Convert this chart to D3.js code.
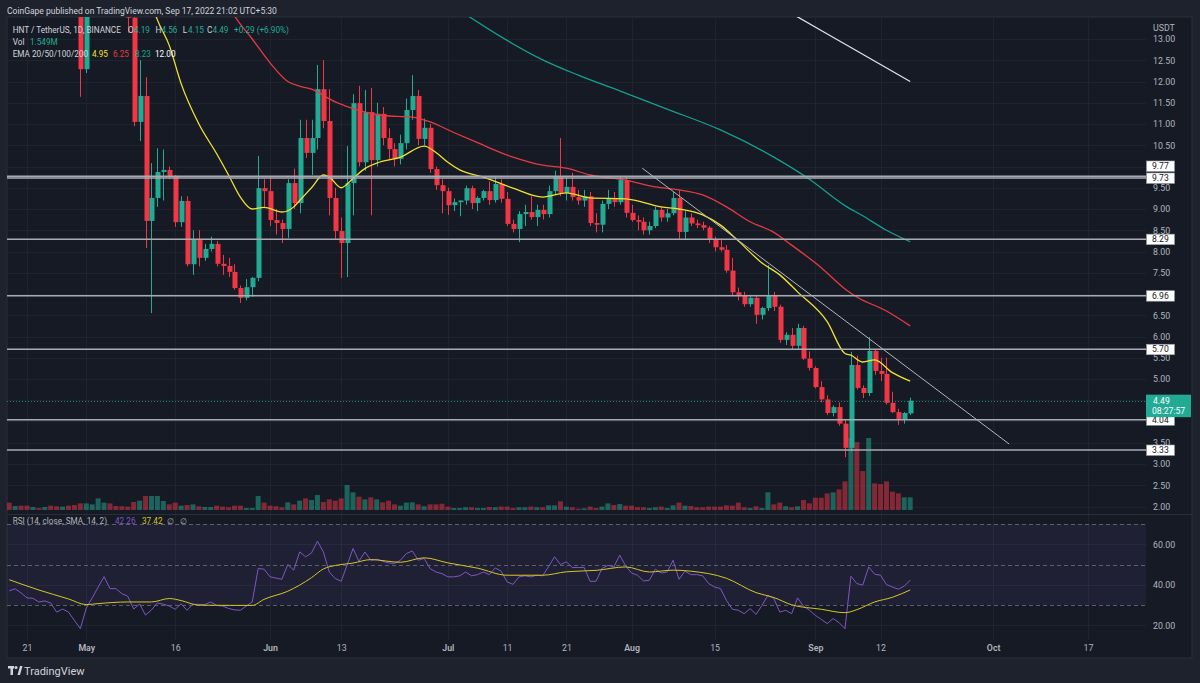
<!DOCTYPE html>
<html>
<head>
<meta charset="utf-8">
<script src="https://cdn.jsdelivr.net/npm/d3@7"></script>
<style>
  body { margin: 0; background: #1e222d; }
  svg text { font-family: Roboto, "Open Sans", sans-serif; }
</style>
</head>
<body>
<svg id="chart" width="1200" height="683"></svg>
<script>
// daily candles, first one is 2022-04-18
const startDate = Date.UTC(2022, 3, 18);
const DAY = 864e5;

// [open, high, low, close]
const ohlc = [
  // Apr 18 - Apr 27
  [18.6,19.2,17.8,18.0],[18.0,18.9,17.6,18.5],[18.5,18.7,17.3,17.5],[17.5,17.8,16.4,16.6],[16.6,17.3,16.2,17.0],
  [17.0,17.1,16.0,16.2],[16.2,16.9,15.9,16.6],[16.6,16.7,15.5,15.7],[15.7,15.9,14.8,15.0],[15.0,15.6,14.7,15.3],
  // Apr 28 - May 7
  [15.3,15.4,14.3,14.5],[14.5,14.7,13.6,13.9],[13.9,14.1,11.64,12.29],[12.29,13.9,12.2,13.7],[13.7,14.6,13.6,14.3],
  [14.3,15.8,14.2,15.4],[15.4,16.2,15.0,15.9],[15.9,16.0,14.8,15.1],[15.1,15.3,14.4,14.6],[14.6,14.8,13.9,14.1],
  // May 8 - May 17
  [14.1,14.4,13.15,13.5],[13.5,13.8,10.95,11.05],[11.05,12.5,10.6,11.66],[11.66,12.1,8.08,8.72],[8.72,10.08,6.55,9.26],
  [9.26,10.43,9.05,9.87],[9.87,10.4,9.2,9.92],[9.92,10.0,9.7,9.78],[9.78,9.8,8.58,8.69],[8.69,9.3,8.58,9.19],
  // May 18 - May 27
  [9.19,9.3,7.65,7.7],[7.7,8.5,7.45,8.29],[8.29,8.5,7.65,7.85],[7.85,8.18,7.78,8.06],[8.06,8.35,8.0,8.18],
  [8.18,8.25,7.65,7.71],[7.71,7.92,7.45,7.66],[7.66,7.85,7.4,7.52],[7.52,7.7,7.1,7.14],[7.14,7.2,6.79,6.91],
  // May 28 - Jun 6
  [6.91,7.35,6.85,7.16],[7.16,7.4,6.93,7.38],[7.38,10.25,7.3,9.49],[9.49,9.7,9.05,9.42],[9.42,9.75,8.6,8.74],
  [8.74,9.0,8.4,8.67],[8.67,8.75,8.2,8.53],[8.53,9.7,8.32,9.61],[9.61,9.95,9.0,9.14],[9.14,11.1,8.9,10.67],
  // Jun 7 - Jun 16
  [10.67,11.1,10.2,10.32],[10.32,11.1,9.8,10.67],[10.67,12.39,10.4,11.82],[11.82,12.5,10.9,11.07],[11.07,11.82,8.85,9.26],
  [9.26,9.5,8.3,8.48],[8.48,8.8,7.38,8.2],[8.2,10.48,7.4,9.61],[9.61,11.7,8.85,11.49],[11.49,11.9,10.0,10.1],
  // Jun 17 - Jun 26
  [10.1,11.8,9.9,11.28],[11.28,11.85,8.85,10.15],[10.15,11.5,10.0,11.24],[11.24,11.4,10.5,10.67],[10.67,10.9,10.15,10.41],
  [10.41,10.55,10.0,10.18],[10.18,10.75,10.05,10.55],[10.55,11.6,10.4,11.33],[11.33,12.15,11.1,11.66],[11.66,11.8,10.5,10.65],
  // Jun 27 - Jul 6
  [10.65,11.13,10.5,10.91],[10.91,11.0,9.85,9.94],[9.94,10.0,9.45,9.56],[9.56,9.7,8.9,9.42],[9.42,9.5,8.86,9.09],
  [9.09,9.25,8.95,9.16],[9.16,9.2,8.83,9.2],[9.2,9.55,9.1,9.49],[9.49,9.55,9.0,9.14],[9.14,9.3,8.95,9.26],
  // Jul 7 - Jul 16
  [9.26,9.45,9.2,9.42],[9.42,9.65,9.1,9.21],[9.21,9.77,9.15,9.59],[9.59,9.7,9.15,9.24],[9.24,9.4,8.6,8.65],
  [8.65,8.75,8.45,8.53],[8.53,8.95,8.22,8.88],[8.88,9.1,8.6,8.93],[8.93,9.3,8.75,8.81],[8.81,9.1,8.6,8.98],
  // Jul 17 - Jul 26
  [8.98,9.1,8.75,8.88],[8.88,9.55,8.8,9.42],[9.42,9.9,9.35,9.75],[9.75,10.67,9.3,9.38],[9.38,9.75,9.2,9.52],
  [9.52,9.85,9.2,9.28],[9.28,9.45,9.1,9.2],[9.2,9.45,9.05,9.3],[9.3,9.4,8.6,8.67],[8.67,8.9,8.45,8.63],
  // Jul 27 - Aug 5
  [8.63,9.2,8.45,9.12],[9.12,9.45,9.0,9.26],[9.26,9.4,9.05,9.16],[9.16,9.75,9.1,9.68],[9.68,9.75,8.8,8.91],
  [8.91,9.1,8.7,8.74],[8.74,8.85,8.5,8.7],[8.7,8.8,8.4,8.5],[8.5,8.7,8.4,8.6],[8.6,9.05,8.55,8.98],
  // Aug 6 - Aug 15
  [8.98,9.05,8.7,8.8],[8.8,9.0,8.7,8.9],[8.9,9.4,8.85,9.26],[9.26,9.45,8.3,8.46],[8.46,8.95,8.3,8.8],
  [8.8,8.9,8.6,8.66],[8.66,8.75,8.55,8.62],[8.62,8.7,8.5,8.56],[8.56,8.6,8.2,8.27],[8.27,8.35,8.0,8.1],
  // Aug 16 - Aug 25
  [8.1,8.3,8.0,8.04],[8.04,8.15,7.5,7.55],[7.55,7.85,6.95,7.04],[7.04,7.15,6.85,6.95],[6.95,7.05,6.7,6.76],
  [6.76,6.95,6.7,6.91],[6.91,6.95,6.3,6.51],[6.51,6.7,6.4,6.67],[6.67,7.68,6.6,6.95],[6.95,7.05,6.6,6.7],
  // Aug 26 - Sep 4
  [6.7,6.75,5.85,5.92],[5.92,6.1,5.8,6.04],[6.04,6.2,5.7,5.78],[5.78,6.3,5.7,6.2],[6.2,6.25,5.45,5.48],
  [5.48,5.65,5.2,5.26],[5.26,5.3,4.78,4.81],[4.81,4.95,4.45,4.52],[4.52,4.62,4.15,4.2],[4.2,4.38,4.12,4.34],
  // Sep 5 - Sep 14
  [4.34,4.45,3.9,3.95],[3.95,4.05,3.16,3.38],[3.38,5.64,3.3,5.33],[5.33,5.55,4.75,4.79],[4.79,4.85,4.55,4.67],
  [4.67,5.99,4.6,5.66],[5.66,5.7,5.1,5.19],[5.19,5.5,4.95,5.12],[5.12,5.5,4.4,4.44],[4.44,4.7,4.2,4.22],
  // Sep 15 - Sep 17
  [4.22,4.3,3.92,4.06],[4.06,4.22,3.95,4.2],[4.19,4.56,4.15,4.49]
];

// volume in millions, same days
const volumes = [
  0.9,0.49,0.53,0.53,0.37,0.24,0.37,0.53,0.45,0.41,
  0.53,0.61,0.81,0.81,0.69,1.42,0.9,0.81,0.49,0.45,
  0.41,0.98,1.14,1.71,1.71,1.71,1.1,0.69,0.9,0.53,
  0.61,0.69,0.45,0.37,0.37,0.53,0.41,0.33,0.53,0.53,
  0.24,0.24,1.71,0.9,0.53,0.45,0.33,0.94,0.69,1.14,
  1.42,1.22,1.83,0.98,1.3,1.14,1.42,3.05,2.16,1.63,
  1.3,1.55,1.3,0.94,1.14,0.69,0.53,0.9,0.94,0.69,
  0.45,0.69,0.69,0.77,0.41,0.24,0.24,0.33,0.33,0.24,
  0.24,0.37,0.33,0.41,0.41,0.24,0.33,0.33,0.41,0.33,
  0.33,0.57,0.57,1.06,0.41,0.33,0.16,0.2,0.41,0.24,
  0.41,0.81,0.61,0.73,0.53,0.53,0.33,0.33,0.24,0.33,
  0.41,0.24,0.57,0.9,0.53,0.49,0.33,0.33,0.41,0.41,
  0.41,0.57,0.53,0.9,0.33,0.24,0.45,0.24,2.16,0.69,
  0.9,0.45,0.33,0.45,1.22,0.81,1.5,1.5,2.03,2.16,
  2.52,3.5,8.8,8.3,4.76,8.8,3.25,3.17,3.5,2.24,
  2.03,1.55,1.549
];

// RSI(14), same days
const rsiValues = [
  37,38,36,33.5,33.3,31.5,32,31,26.5,28,
  26.5,22.4,18.3,28.5,33.5,38.8,44,38.1,38.1,35.6,
  34.3,28,30.5,25,27.6,31,30.4,29.5,27.9,30.6,
  27.4,30.4,30.3,30.2,31.5,29.8,29.5,28.3,27.6,27.4,
  29.5,31.5,48,47.7,43.9,43.3,42.7,50,47.2,56.2,
  53.8,55.7,61.5,56.2,46.3,43.1,41.7,49.6,57.9,51.6,
  56.2,52.1,52.6,51.6,50.8,50.5,52.1,55.4,56.7,52.1,
  53,48,46.3,45.5,43.9,43.9,44.4,46.3,44.4,45,
  46.3,45,48.3,46.7,41.4,40.2,43.9,44.4,43.9,44.7,
  44.4,49,53.8,50,51.3,48.5,48.5,48.5,41.7,41.7,
  48,49.6,48.8,54.6,49.3,45.8,44.7,41.9,42.2,47.7,
  45.8,46.3,52.1,42.7,46.7,45,45,44.4,40.6,38.9,
  38.1,32.3,27.9,27.4,25.7,28.2,25.4,29.8,34.8,33.2,
  26.5,27.4,25.7,33.5,29.4,27.4,24.9,22.9,20.8,23.3,
  21.3,18.3,44.2,40.6,39.8,48.8,45.2,44.7,40.1,38.9,
  37.8,39.3,42.26
];

// [day index, value]
const ema20 = [[24,13.85],[25,13.45],[27,12.85],[29,11.95],[32,11.0],[35,10.3],[37,9.8],[39,9.28],[41,9.0],[43,9.04],
  [46,8.93],[48,9.05],[49,9.2],[51,9.5],[53,9.8],[54,9.75],[56,9.5],[58,9.72],[60,9.95],[62,10.08],[66,10.22],
  [70,10.48],[72,10.33],[74,10.1],[76,9.92],[80,9.75],[85,9.49],[90,9.28],[94,9.38],[98,9.26],[104,9.24],[110,9.05],
  [113,9.0],[117,8.86],[120,8.62],[123,8.25],[127,7.73],[130,7.45],[133,7.05],[138,6.35],[141,5.6],[142,5.56],
  [144,5.4],[146,5.45],[149,5.15],[152,4.95]];
const ema50 = [[37,13.8],[38,13.55],[41,13.0],[44,12.44],[47,12.0],[49,11.89],[51,11.82],[55,11.52],[59,11.32],
  [63,11.2],[68,11.16],[71,11.05],[75,10.8],[79,10.56],[85,10.22],[90,10.03],[94,9.96],[98,9.8],[104,9.68],[109,9.52],
  [113,9.45],[117,9.33],[121,9.05],[125,8.7],[129,8.45],[132,8.15],[137,7.62],[141,7.12],[143,6.93],[148,6.6],[152,6.25]];
const ema100 = [[77,13.58],[83,13.05],[90,12.51],[96,12.15],[103,11.78],[111,11.35],[120,10.86],[129,10.22],
  [135,9.7],[141,9.08],[144,8.84],[148,8.5],[152,8.23]];
const ema200 = [[132,13.6],[142,12.8],[152,12.0]];
const rsiSma = [[0,42.5],[2,40.4],[5,37.4],[10,33],[13,30.2],[15,30.7],[20,31.5],[24,31.5],[27,33.2],[29,32.2],
  [32,29.9],[38,29.8],[41,29.8],[43,32.8],[47,36.8],[51,43.5],[53,47.8],[55,49.5],[58,50.7],[61,52.4],[66,51.1],
  [70,53.3],[74,50.8],[79,48.2],[84,44.7],[90,44.7],[94,46.4],[99,47.1],[104,48.8],[108,46.3],[112,47.2],[115,46.7],
  [121,43.2],[126,36.1],[129,33.7],[132,30.1],[137,27.9],[141,26.2],[143,27.7],[146,31.5],[149,33.8],[152,37.42]];

const levels = [9.77, 9.73, 8.29, 6.96, 5.70, 4.04, 3.33];
const trendLine = [[106.8, 9.96], [168.7, 3.47]];
const lastPrice = 4.49;
const countdown = '08:27:57';

const priceTicks = d3.range(2, 13.01, 0.5);
const rsiTicks = [20, 40, 60];
const dateTicks = [['2022-04-21','21'],['2022-05-01','May'],['2022-05-16','16'],['2022-06-01','Jun'],
  ['2022-06-13','13'],['2022-07-01','Jul'],['2022-07-11','11'],['2022-07-21','21'],['2022-08-01','Aug'],
  ['2022-08-15','15'],['2022-09-01','Sep'],['2022-09-12','12'],['2022-10-01','Oct'],['2022-10-17','17']];

const UP = '#22ab94', DOWN = '#f23645';
const dateOf = i => new Date(startDate + i * DAY);

var svg = d3.select('#chart');

var x = d3.scaleUtc()
  .domain([new Date(Date.UTC(2022, 3, 21)), new Date(Date.UTC(2022, 9, 17))])
  .range([27, 1088]);
var y = d3.scaleLinear().domain([2, 13]).range([506.5, 39]);
var yVol = d3.scaleLinear().domain([0, 8.8]).range([510, 438]);
var yRsi = d3.scaleLinear().domain([30, 70]).range([605, 524]);

// frame + pane background
svg.append('rect').attr('width', 1200).attr('height', 683).attr('fill', '#1e222d');
svg.append('rect').attr('x', 7).attr('y', 17).attr('width', 1185).attr('height', 641)
  .attr('fill', '#161a25').attr('stroke', '#2a2e39');

svg.append('text').attr('x', 7).attr('y', 14).attr('fill', '#d1d4dc').attr('font-size', 8.5)
  .text('CoinGape published on TradingView.com, Sep 17, 2022 21:02 UTC+5:30');

var defs = svg.append('defs');
defs.append('clipPath').attr('id', 'clipPrice').append('rect')
  .attr('x', 7).attr('y', 17).attr('width', 1139).attr('height', 496);
defs.append('clipPath').attr('id', 'clipRsi').append('rect')
  .attr('x', 7).attr('y', 515).attr('width', 1139).attr('height', 125);

// grid
var grid = svg.append('g').attr('stroke', '#1f2330').attr('stroke-width', 1);
grid.selectAll('.hg').data(priceTicks).enter().append('line')
  .attr('x1', 7).attr('x2', 1146)
  .attr('y1', d => Math.round(y(d)) + 0.5).attr('y2', d => Math.round(y(d)) + 0.5);
grid.selectAll('.vg').data(dateTicks).enter().append('line')
  .attr('x1', d => Math.round(x(new Date(d[0]))) + 0.5).attr('x2', d => Math.round(x(new Date(d[0]))) + 0.5)
  .attr('y1', 17).attr('y2', 640);
grid.selectAll('.rg').data(rsiTicks).enter().append('line')
  .attr('x1', 7).attr('x2', 1146)
  .attr('y1', d => Math.round(yRsi(d)) + 0.5).attr('y2', d => Math.round(yRsi(d)) + 0.5);

// pane separator
svg.append('line').attr('x1', 7).attr('x2', 1192).attr('y1', 514.5).attr('y2', 514.5).attr('stroke', '#2a2e39');

var price = svg.append('g').attr('clip-path', 'url(#clipPrice)');

// volume
price.append('g').selectAll('rect').data(volumes).enter().append('rect')
  .attr('x', (d, i) => x(dateOf(i)) - 2.5)
  .attr('width', 5)
  .attr('y', d => yVol(d))
  .attr('height', d => yVol(0) - yVol(d))
  .attr('fill', (d, i) => ohlc[i][3] >= ohlc[i][0] ? UP : DOWN)
  .attr('opacity', 0.5);

// candles
var candle = price.append('g').selectAll('g').data(ohlc).enter().append('g')
  .attr('fill', d => d[3] >= d[0] ? UP : DOWN)
  .attr('stroke', d => d[3] >= d[0] ? UP : DOWN);
candle.append('line')
  .attr('x1', (d, i) => Math.round(x(dateOf(i))) + 0.5)
  .attr('x2', (d, i) => Math.round(x(dateOf(i))) + 0.5)
  .attr('y1', d => y(d[1])).attr('y2', d => y(d[2]));
candle.append('rect')
  .attr('stroke', 'none')
  .attr('x', (d, i) => Math.round(x(dateOf(i))) - 1.5)
  .attr('width', 5)
  .attr('y', d => y(Math.max(d[0], d[3])))
  .attr('height', d => Math.max(1, Math.abs(y(d[0]) - y(d[3]))));

// moving averages
var maLine = d3.line().x(d => x(dateOf(d[0]))).y(d => y(d[1])).curve(d3.curveMonotoneX);
[[ema200, '#e0e3eb'], [ema100, '#14a08e'], [ema50, '#e53b40'], [ema20, '#f3e22b']].forEach(s => {
  price.append('path').datum(s[0]).attr('d', maLine)
    .attr('fill', 'none').attr('stroke', s[1]).attr('stroke-width', 1.3);
});

// horizontal levels
price.selectAll('.lvl').data(levels).enter().append('line')
  .attr('x1', 7).attr('x2', 1146)
  .attr('y1', d => y(d)).attr('y2', d => y(d))
  .attr('stroke', '#a8abb3').attr('stroke-width', 1.6);

// trend line
price.append('line')
  .attr('x1', x(dateOf(trendLine[0][0]))).attr('y1', y(trendLine[0][1]))
  .attr('x2', x(dateOf(trendLine[1][0]))).attr('y2', y(trendLine[1][1]))
  .attr('stroke', '#b2b5be').attr('stroke-width', 1);

// last price line
price.append('line').attr('x1', 7).attr('x2', 1146)
  .attr('y1', Math.round(y(lastPrice)) + 0.5).attr('y2', Math.round(y(lastPrice)) + 0.5)
  .attr('stroke', UP).attr('stroke-dasharray', '1,2').attr('opacity', 0.7);

// RSI pane
var rsiG = svg.append('g').attr('clip-path', 'url(#clipRsi)');
rsiG.append('rect').attr('x', 7).attr('width', 1139)
  .attr('y', yRsi(70)).attr('height', yRsi(30) - yRsi(70))
  .attr('fill', '#7e57c2').attr('opacity', 0.1);
rsiG.selectAll('.rl').data([70, 50, 30]).enter().append('line')
  .attr('x1', 7).attr('x2', 1146)
  .attr('y1', d => Math.round(yRsi(d)) + 0.5).attr('y2', d => Math.round(yRsi(d)) + 0.5)
  .attr('stroke', '#787b86').attr('stroke-dasharray', '4,3').attr('opacity', 0.7);
rsiG.append('path').datum(rsiValues)
  .attr('d', d3.line().x((d, i) => x(dateOf(i))).y(d => yRsi(d)))
  .attr('fill', 'none').attr('stroke', '#7e57c2').attr('stroke-width', 1);
rsiG.append('path').datum(rsiSma)
  .attr('d', d3.line().x(d => x(dateOf(d[0]))).y(d => yRsi(d[1])).curve(d3.curveMonotoneX))
  .attr('fill', 'none').attr('stroke', '#d8c625').attr('stroke-width', 1);

// level label positions (pushed apart like TradingView does)
var boxes = levels.map(v => ({v: v, cy: y(v)})).sort((a, b) => b.cy - a.cy);
for (var i = 1; i < boxes.length; i++) {
  if (boxes[i - 1].cy - boxes[i].cy < 12) boxes[i].cy = boxes[i - 1].cy - 12;
}
var ly = y(lastPrice);
var covered = boxes.map(b => b.cy).concat([ly + 5]);

// price axis, ticks hidden under a label box are dropped
var shownTicks = priceTicks.filter(t => covered.every(c => Math.abs(y(t) - c) > 6));
var yAxis = svg.append('g').attr('transform', 'translate(1146,0)')
  .call(d3.axisRight(y).tickValues(shownTicks).tickFormat(d3.format('.2f')).tickSize(0).tickPadding(7));
var rAxis = svg.append('g').attr('transform', 'translate(1146,0)')
  .call(d3.axisRight(yRsi).tickValues(rsiTicks).tickFormat(d3.format('.2f')).tickSize(0).tickPadding(7));
var xAxis = svg.append('g').attr('transform', 'translate(0,641)')
  .call(d3.axisBottom(x).tickValues(dateTicks.map(d => new Date(d[0])))
    .tickFormat((d, i) => dateTicks[i][1]).tickSize(0).tickPadding(4));
[yAxis, rAxis, xAxis].forEach(a => {
  a.select('.domain').remove();
  a.selectAll('text').attr('fill', '#b2b5be').attr('font-size', 8.8)
    .attr('font-family', 'Roboto, sans-serif');
});
xAxis.selectAll('text').attr('font-weight', (d, i) => /[A-Z]/.test(dateTicks[i][1]) ? 600 : 400);
svg.append('text').attr('x', 1153).attr('y', 31).attr('fill', '#b2b5be').attr('font-size', 8.8).text('USDT');

var box = svg.append('g').selectAll('g').data(boxes).enter().append('g');
box.append('rect').attr('x', 1146.5).attr('width', 28).attr('y', d => d.cy - 5).attr('height', 10.5)
  .attr('fill', '#ffffff').attr('stroke', '#9598a1').attr('stroke-width', 0.6);
box.append('text').attr('x', 1152).attr('y', d => d.cy + 3.2).attr('fill', '#131722')
  .attr('font-size', 8.6).text(d => d3.format('.2f')(d.v));

svg.append('rect').attr('x', 1146).attr('width', 45).attr('y', ly - 6).attr('height', 22.5).attr('fill', UP);
svg.append('text').attr('x', 1153).attr('y', ly + 3.3).attr('fill', '#fff').attr('font-size', 8.6).text(d3.format('.2f')(lastPrice));
svg.append('text').attr('x', 1152).attr('y', ly + 13.6).attr('fill', '#fff').attr('font-size', 8.6).text(countdown);

// legends
function legend(yPos, parts) {
  var t = svg.append('text').attr('y', yPos).attr('font-size', 8.2);
  parts.forEach(p => t.append('tspan').attr('x', p[0]).attr('fill', p[2]).text(p[1]));
}
var last = ohlc[ohlc.length - 1], prev = ohlc[ohlc.length - 2];
var chg = last[3] - prev[3];
legend(33, [[12.7, 'HNT / TetherUS, 1D, BINANCE', '#d1d4dc'], [128, 'O', '#d1d4dc'], [134, last[0].toFixed(2), UP],
  [155.5, 'H', '#d1d4dc'], [161.5, last[1].toFixed(2), UP], [182.7, 'L', '#d1d4dc'], [188, last[2].toFixed(2), UP],
  [207, 'C', '#d1d4dc'], [212.5, last[3].toFixed(2), UP],
  [234, '+' + chg.toFixed(2) + ' (+' + (chg / prev[3] * 100).toFixed(2) + '%)', UP]]);
legend(45, [[12.7, 'Vol', '#d1d4dc'], [30, volumes[volumes.length - 1].toFixed(3) + 'M', UP]]);
legend(57, [[12.7, 'EMA 20/50/100/200', '#d1d4dc'], [92, '4.95', '#f3e22b'], [113, '6.25', '#e53b40'],
  [135, '8.23', '#14a08e'], [155, '12.00', '#ffffff']]);
legend(524, [[12.7, 'RSI (14, close, SMA, 14, 2)', '#b2b5be'], [115, rsiValues[rsiValues.length - 1].toFixed(2), '#7e57c2'],
  [142, rsiSma[rsiSma.length - 1][1].toFixed(2), '#d8c625'], [167, '\u2205', '#b2b5be'], [180, '\u2205', '#b2b5be']]);

// footer logo
var logo = svg.append('g').attr('fill', '#d1d4dc');
logo.append('rect').attr('x', 8).attr('y', 666).attr('width', 6).attr('height', 2.5);
logo.append('rect').attr('x', 10.5).attr('y', 666).attr('width', 2.5).attr('height', 9);
logo.append('circle').attr('cx', 16).attr('cy', 667.5).attr('r', 1.5);
logo.append('path').attr('d', 'M17.5 675 L20 666 L22.5 666 L20 675 Z');
svg.append('text').attr('x', 24).attr('y', 675).attr('fill', '#d1d4dc').attr('font-size', 11).text('TradingView');
</script>
</body>
</html>
